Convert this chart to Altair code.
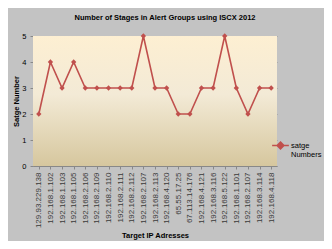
import json
import altair as alt
import pandas as pd

ips = [
    "129.93.229.138", "192.168.1.102", "192.168.1.103", "192.168.1.105",
    "192.168.2.106", "192.168.2.109", "192.168.2.110", "192.168.2.111",
    "192.168.2.112", "192.168.2.107", "192.168.2.113", "192.168.4.120",
    "65.55.17.25", "67.113.14.176", "192.168.4.121", "192.168.3.116",
    "192.168.5.122", "192.168.1.101", "192.168.2.107", "192.168.3.114",
    "192.168.4.118",
]
stages = [2, 4, 3, 4, 3, 3, 3, 3, 3, 5, 3, 3, 2, 2, 3, 3, 5, 3, 2, 3, 3]
series_name = "satge Numbers"

df = pd.DataFrame({
    "idx": list(range(len(ips))),
    "stages": stages,
    "series": [series_name] * len(ips),
})

red = "#c0504d"
font = "Liberation Sans"
label_expr = json.dumps(ips) + "[datum.value]"

gradient = alt.LinearGradient(
    gradient="linear",
    x1=0, x2=0, y1=0, y2=1,
    stops=[
        alt.GradientStop(offset=0, color="#fdefd2"),
        alt.GradientStop(offset=0.45, color="#f3ead6"),
        alt.GradientStop(offset=1, color="#d6c79e"),
    ],
)

bg = (
    alt.Chart(pd.DataFrame({"a": [0]}))
    .mark_rect(color=gradient)
    .encode(
        x=alt.value(0), x2=alt.value("width"),
        y=alt.value(0), y2=alt.value("height"),
    )
)

line = (
    alt.Chart(df)
    .mark_line(
        color=red,
        strokeWidth=1.6,
        point=alt.OverlayMarkDef(shape="diamond", size=28, filled=True, color=red),
    )
    .encode(
        x=alt.X(
            "idx:O",
            title="Target IP Adresses",
            scale=alt.Scale(paddingInner=0, paddingOuter=0.5),
            axis=alt.Axis(
                labelExpr=label_expr,
                labelAngle=-90,
                labelFontSize=8,
                labelColor="#3a3a3a",
                labelFont=font,
                labelPadding=3,
                tickColor="#888888",
                tickSize=3,
                domainColor="#888888",
                titleFontSize=7.5,
                titleFont=font,
                titleFontWeight="bold",
                titleColor="#000000",
                titlePadding=4,
            ),
        ),
        y=alt.Y(
            "stages:Q",
            title="Satge Number",
            scale=alt.Scale(domain=[0, 5], nice=False),
            axis=alt.Axis(
                values=[0, 1, 2, 3, 4, 5],
                format="d",
                labelFontSize=7.5,
                labelFont=font,
                labelColor="#000000",
                labelPadding=4,
                tickColor="#888888",
                tickSize=3,
                domainColor="#888888",
                gridColor="#959595",
                gridWidth=1,
                titleFontSize=7.5,
                titleFont=font,
                titleFontWeight="bold",
                titleColor="#000000",
                titlePadding=1,
            ),
        ),
        color=alt.Color(
            "series:N",
            scale=alt.Scale(range=[red]),
            legend=alt.Legend(
                title=None,
                orient="none",
                legendX=238,
                legendY=100,
                symbolType="M-1,0L1,0M0,-0.4L0.4,0L0,0.4L-0.4,0Z",
                symbolSize=280,
                symbolStrokeWidth=1.6,
                symbolFillColor=red,
                symbolStrokeColor=red,
                labelExpr="['satge', 'Numbers']",
                labelFontSize=7.5,
                labelFont=font,
                labelColor="#000000",
                labelOffset=1,
            ),
        ),
    )
)

chart = (
    alt.layer(bg, line)
    .properties(
        width=244,
        height=130,
        title=alt.TitleParams(
            "Number of Stages in Alert  Groups using ISCX 2012",
            fontSize=7.5,
            font=font,
            fontWeight="bold",
            color="#000000",
            offset=11,
            dx=10,
        ),
        autosize=alt.AutoSizeParams(type="none"),
        padding={"left": 25, "top": 28, "right": 47, "bottom": 75},
        background="#c3c3c3",
    )
    .configure_view(stroke=None)
)

chart.save("out.html", embed_options={"renderer": "svg", "actions": False})
